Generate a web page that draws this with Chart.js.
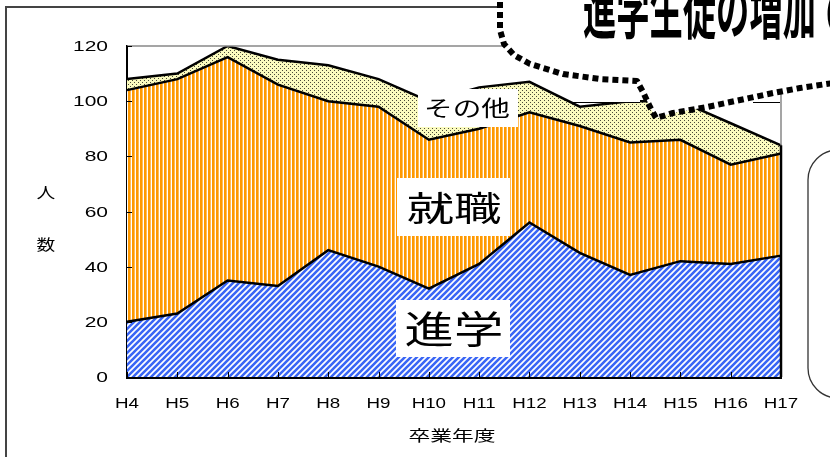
<!DOCTYPE html>
<html>
<head>
<meta charset="utf-8">
<script src="https://cdn.jsdelivr.net/npm/chart.js@4"></script>
<style>
html, body { margin: 0; padding: 0; background: #fff; overflow: hidden; }
canvas { display: block; }
</style>
</head>
<body>
<canvas id="myChart" width="830" height="457"></canvas>
<script>
// 卒業年度
var years = ['H4', 'H5', 'H6', 'H7', 'H8', 'H9', 'H10', 'H11', 'H12', 'H13', 'H14', 'H15', 'H16', 'H17'];
// 人数
var shingaku = [20, 23, 35, 33, 46, 40, 32, 41, 56, 45, 37, 42, 41, 44];
var shushoku = [84, 85, 81, 73, 54, 58, 54, 49, 40, 46, 48, 44, 36, 37];
var sonota   = [4, 2, 4, 9, 13, 10, 14, 15, 11, 7, 15, 14, 15, 3];
var yTicks = [0, 20, 40, 60, 80, 100, 120];

var ctx = document.getElementById('myChart');
var c2d = ctx.getContext('2d');

function makePattern(w, h, draw) {
  var c = document.createElement('canvas');
  c.width = w; c.height = h;
  draw(c.getContext('2d'));
  return c2d.createPattern(c, 'repeat');
}

var bluePat = makePattern(6, 6, function (g) {
  g.fillStyle = '#fff'; g.fillRect(0, 0, 6, 6);
  g.strokeStyle = '#3a66f5'; g.lineWidth = 2.6;
  g.beginPath();
  g.moveTo(-1, 7); g.lineTo(7, -1);
  g.moveTo(-1, 1); g.lineTo(1, -1);
  g.moveTo(5, 7); g.lineTo(7, 5);
  g.stroke();
});
var orangePat = makePattern(4, 1, function (g) {
  g.fillStyle = '#ff9900'; g.fillRect(0, 0, 2, 1);
  g.fillStyle = '#ffbd5a'; g.fillRect(2, 0, 1, 1);
  g.fillStyle = '#fff'; g.fillRect(3, 0, 1, 1);
});
var dotPat = makePattern(4, 4, function (g) {
  g.fillStyle = '#fbfbbf'; g.fillRect(0, 0, 4, 4);
  g.fillStyle = '#4a4a3a';
  g.fillRect(0, 0, 1, 1); g.fillRect(2, 2, 1, 1);
});

function sText(g, txt, x, y, font, sx, align, base, color) {
  g.save();
  g.font = font;
  g.textAlign = align || 'center';
  g.textBaseline = base || 'middle';
  g.fillStyle = color || '#000';
  g.translate(x, y);
  g.scale(sx, 1);
  g.fillText(txt, 0, 0);
  g.restore();
}

var jp = '"Noto Sans CJK JP", sans-serif';
var lat = '"Liberation Sans", Arial, sans-serif';

var decor = {
  id: 'decor',
  afterDraw: function (chart) {
    var g = chart.ctx;
    var a = chart.chartArea;
    var xs = chart.scales.x, ys = chart.scales.y;

    // plot border top/right
    g.save();
    g.strokeStyle = '#888'; g.lineWidth = 1.5;
    g.beginPath();
    g.moveTo(a.left, a.top); g.lineTo(a.right, a.top); g.lineTo(a.right, a.bottom);
    g.stroke();

    // right edge of the stacked area
    var last = years.length - 1;
    var topMeta = chart.getDatasetMeta(2).data[last];
    g.strokeStyle = '#000'; g.lineWidth = 2.5;
    g.beginPath();
    g.moveTo(xs.getPixelForValue(last), ys.getPixelForValue(0));
    g.lineTo(xs.getPixelForValue(last), topMeta.y);
    g.stroke();

    // inward ticks
    g.lineWidth = 1;
    g.beginPath();
    yTicks.forEach(function (v) {
      var py = Math.round(ys.getPixelForValue(v)) + 0.5;
      g.moveTo(a.left, py); g.lineTo(a.left + 5, py);
    });
    years.forEach(function (y, i) {
      var px = Math.round(xs.getPixelForValue(i)) + 0.5;
      g.moveTo(px, a.bottom); g.lineTo(px, a.bottom - 5);
    });
    g.stroke();
    g.restore();

    // tick labels
    yTicks.forEach(function (v) {
      sText(g, String(v), 108, ys.getPixelForValue(v) + 1, '15px ' + lat, 1.4, 'right', 'middle', '#000');
    });
    years.forEach(function (y, i) {
      sText(g, y, xs.getPixelForValue(i), 404, '15px ' + lat, 1.25, 'center', 'middle', '#000');
    });

    // axis titles
    sText(g, '卒業年度', 452, 435, '15px ' + jp, 1.45, 'center', 'middle', '#000');
    sText(g, '人', 46, 192, '15px ' + jp, 1.25, 'center', 'middle', '#000');
    sText(g, '数', 46, 244, '15px ' + jp, 1.25, 'center', 'middle', '#000');

    // series labels
    g.fillStyle = '#fff';
    g.fillRect(418, 89, 100, 38);
    g.fillRect(397, 178, 113, 58);
    g.fillRect(396, 300, 114, 57);
    sText(g, 'その他', 467, 108, '22px ' + jp, 1.3, 'center', 'middle', '#000');
    sText(g, '就職', 454, 208, '34px ' + jp, 1.4, 'center', 'middle', '#000');
    sText(g, '進学', 454, 329, '38px ' + jp, 1.3, 'center', 'middle', '#000');

    // outer frame
    g.save();
    g.strokeStyle = '#444'; g.lineWidth = 2;
    g.beginPath();
    g.moveTo(6, 457); g.lineTo(6, 7); g.lineTo(510, 7);
    g.stroke();

    // little white bits near the bubble
    g.fillStyle = '#fff';
    g.fillRect(573, 78, 67, 24.5);
    g.fillRect(753, 88, 27, 14.5);
    g.strokeStyle = '#000'; g.lineWidth = 1;
    g.beginPath();
    g.moveTo(573, 102.5); g.lineTo(640, 102.5);
    g.moveTo(753, 102.5); g.lineTo(780, 102.5);
    g.stroke();

    // speech bubble
    var pts = [[500, -8], [500, 30], [504, 44], [514, 55], [530, 64], [563, 74], [600, 79], [637, 81],
               [643, 92], [650, 107], [656, 118], [673, 113], [707, 107], [740, 100], [773, 93],
               [800, 88], [840, 82], [840, -8]];
    g.beginPath();
    g.moveTo(pts[0][0], pts[0][1]);
    for (var i = 1; i < pts.length; i++) g.lineTo(pts[i][0], pts[i][1]);
    g.closePath();
    g.fillStyle = '#fff';
    g.fill();
    g.beginPath();
    g.moveTo(pts[0][0], pts[0][1]);
    for (var j = 1; j < pts.length - 1; j++) g.lineTo(pts[j][0], pts[j][1]);
    g.strokeStyle = '#000'; g.lineWidth = 6; g.setLineDash([6, 4]); g.lineJoin = 'round';
    g.stroke();
    g.setLineDash([]);
    sText(g, '進学生徒の増加で', 583, 41, 'bold 64px ' + jp, 0.52, 'left', 'bottom', '#000');

    // right rounded box
    g.beginPath();
    g.roundRect(808, 150, 80, 248, 30);
    g.fillStyle = '#fff'; g.fill();
    g.strokeStyle = '#333'; g.lineWidth = 1.3;
    g.stroke();
    g.restore();
  }
};

var myChart = new Chart(ctx, {
  type: 'line',
  data: {
    labels: years,
    datasets: [{
      label: '進学',
      data: shingaku,
      backgroundColor: bluePat,
      borderColor: '#000',
      borderWidth: 2.5,
      fill: 'origin'
    }, {
      label: '就職',
      data: shushoku,
      backgroundColor: orangePat,
      borderColor: '#000',
      borderWidth: 2.5,
      fill: '-1'
    }, {
      label: 'その他',
      data: sonota,
      backgroundColor: dotPat,
      borderColor: '#000',
      borderWidth: 2.5,
      fill: '-1'
    }]
  },
  options: {
    responsive: false,
    devicePixelRatio: 1,
    animation: false,
    elements: { point: { radius: 0 }, line: { tension: 0 } },
    layout: { padding: { top: 46, right: 49, left: 0, bottom: 0 } },
    plugins: { legend: { display: false }, tooltip: { enabled: false } },
    scales: {
      x: {
        offset: false,
        grid: { display: false, drawTicks: false },
        border: { color: '#000', width: 3 },
        ticks: { display: false },
        afterFit: function (s) { s.height = 80; }
      },
      y: {
        stacked: true,
        min: 0,
        max: 120,
        grid: { display: false, drawTicks: false },
        border: { color: '#000', width: 2 },
        ticks: { display: false, stepSize: 20 },
        afterFit: function (s) { s.width = 127; }
      }
    }
  },
  plugins: [decor]
});
</script>
</body>
</html>
